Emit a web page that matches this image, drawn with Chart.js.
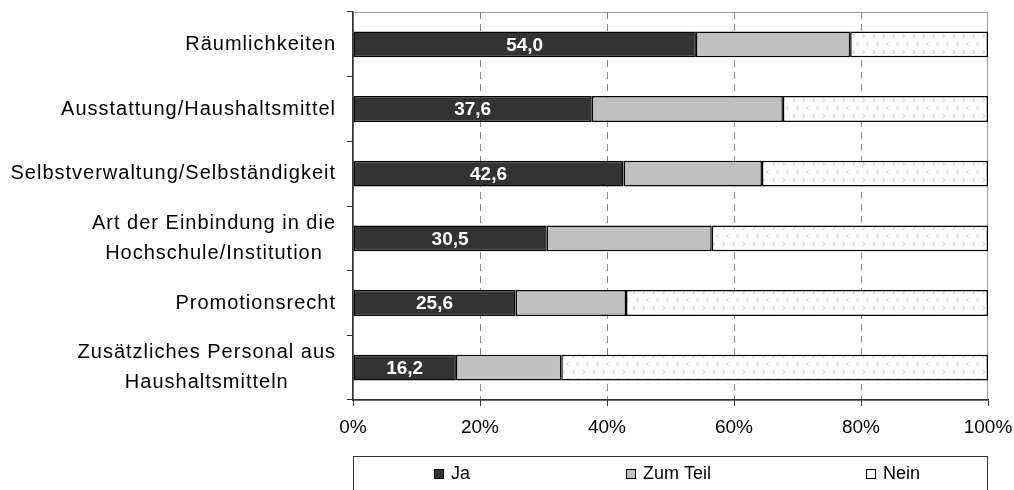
<!DOCTYPE html>
<html>
<head>
<meta charset="utf-8">
<script src="https://cdn.jsdelivr.net/npm/chart.js@4"></script>
<style>
  html, body { margin: 0; padding: 0; background: #fff; }
</style>
</head>
<body>
<canvas id="chart" width="1014" height="490"></canvas>
<script>
const categories = [
  ['Räumlichkeiten'],
  ['Ausstattung/Haushaltsmittel'],
  ['Selbstverwaltung/Selbständigkeit'],
  ['Art der Einbindung in die', 'Hochschule/Institution'],
  ['Promotionsrecht'],
  ['Zusätzliches Personal aus', 'Haushaltsmitteln']
];
const ja = [54.0, 37.6, 42.6, 30.5, 25.6, 16.2];
const zumTeil = [24.3, 30.1, 21.8, 26.0, 17.4, 16.6];
const nein = [21.7, 32.3, 35.6, 43.5, 57.0, 67.2];
const xTicks = [0, 20, 40, 60, 80, 100];
const seriesNames = ['Ja', 'Zum Teil', 'Nein'];

const FONT = '"Liberation Sans", Arial, sans-serif';

// white fill with small grey chevrons, like the Excel pattern
function neinPattern() {
  const c = document.createElement('canvas');
  c.width = 10; c.height = 16;
  const g = c.getContext('2d');
  g.fillStyle = '#fff';
  g.fillRect(0, 0, 10, 16);
  g.strokeStyle = '#bdbdbd';
  g.lineWidth = 1;
  g.beginPath();
  g.moveTo(2.5, 2); g.lineTo(4.5, 4); g.lineTo(2.5, 6);
  g.moveTo(8.5, 10); g.lineTo(6.5, 12); g.lineTo(8.5, 14);
  g.stroke();
  return g.createPattern(c, 'repeat');
}

const ctx = document.getElementById('chart').getContext('2d');
const swatches = ['#333333', '#c0c0c0', '#ffffff'];

const areaFrame = {
  id: 'areaFrame',
  beforeDraw(chart) {
    const a = chart.chartArea, c = chart.ctx;
    c.save();
    c.strokeStyle = '#a0a0a0';
    c.lineWidth = 1;
    c.strokeRect(a.left + 0.5, a.top + 0.5, a.right - a.left - 1, a.bottom - a.top);
    c.restore();
  }
};

const catLabels = {
  id: 'catLabels',
  afterDraw(chart) {
    const y = chart.scales.y, c = chart.ctx;
    c.save();
    c.font = '20px ' + FONT;
    c.letterSpacing = '1px';
    c.fillStyle = '#000';
    c.textAlign = 'center';
    c.textBaseline = 'middle';
    const right = 336, lh = 30;
    categories.forEach((lines, i) => {
      const cy = y.getPixelForValue(i);
      const w = Math.max(...lines.map(l => c.measureText(l).width));
      const cx = right - w / 2;
      lines.forEach((l, j) => {
        c.fillText(l, cx, cy + (j - (lines.length - 1) / 2) * lh);
      });
    });
    c.restore();
  }
};

const barLabels = {
  id: 'barLabels',
  afterDatasetsDraw(chart) {
    const c = chart.ctx;
    const meta = chart.getDatasetMeta(0);
    c.save();
    c.font = 'bold 19px ' + FONT;
    c.fillStyle = '#fff';
    c.textAlign = 'center';
    c.textBaseline = 'middle';
    meta.data.forEach((bar, i) => {
      c.fillText(ja[i].toFixed(1).replace('.', ','), (bar.x + bar.base) / 2, bar.y + 1);
    });
    c.restore();
  }
};

const legendBox = {
  id: 'legendBox',
  afterDraw(chart) {
    const a = chart.chartArea, c = chart.ctx;
    c.save();
    c.strokeStyle = '#333';
    c.lineWidth = 1;
    c.strokeRect(a.left + 0.5, 456.5, a.right - a.left - 1, 60);
    const xs = [434, 626, 866];
    c.font = '18px ' + FONT;
    c.textBaseline = 'middle';
    c.textAlign = 'left';
    seriesNames.forEach((name, i) => {
      c.fillStyle = swatches[i];
      c.fillRect(xs[i], 469.5, 9, 9);
      c.strokeStyle = '#000';
      c.strokeRect(xs[i] + 0.5, 469.5, 9, 9);
      c.fillStyle = '#000';
      c.fillText(name, xs[i] + 17, 474);
    });
    c.restore();
  }
};

new Chart(ctx, {
  type: 'bar',
  data: {
    labels: categories,
    datasets: [
      { label: seriesNames[0], data: ja, backgroundColor: '#333333' },
      { label: seriesNames[1], data: zumTeil, backgroundColor: '#c0c0c0' },
      { label: seriesNames[2], data: nein, backgroundColor: neinPattern() }
    ].map(d => Object.assign(d, {
      borderColor: '#000',
      borderWidth: 1.5,
      borderSkipped: false,
      barPercentage: 0.4,
      categoryPercentage: 1
    }))
  },
  options: {
    indexAxis: 'y',
    responsive: false,
    animation: false,
    layout: { padding: { top: 12, right: 0, bottom: 0, left: 0 } },
    plugins: {
      legend: { display: false },
      tooltip: { enabled: false }
    },
    scales: {
      x: {
        stacked: true,
        min: 0,
        max: 100,
        afterBuildTicks: s => { s.ticks = xTicks.map(v => ({ value: v })); },
        afterFit: s => { s.height = 90; s.paddingRight = 26; s.paddingLeft = 0; },
        ticks: {
          callback: v => v + '%',
          color: '#000',
          font: { family: FONT, size: 19 },
          padding: 10,
          maxRotation: 0
        },
        grid: {
          color: c => (c.tick && (c.tick.value === 0 || c.tick.value === 100)) ? 'rgba(0,0,0,0)' : '#8a8a8a',
          lineWidth: 1,
          tickColor: '#333',
          tickLength: 6,
          tickBorderDash: []
        },
        border: { color: '#333', width: 1.5, dash: [7, 5] }
      },
      y: {
        stacked: true,
        offset: true,
        afterFit: s => { s.width = 353; },
        ticks: { display: false },
        grid: {
          offset: true,
          drawOnChartArea: false,
          tickColor: '#333',
          tickLength: 6
        },
        border: { color: '#333', width: 1.5 }
      }
    }
  },
  plugins: [areaFrame, catLabels, barLabels, legendBox]
});
</script>
</body>
</html>
